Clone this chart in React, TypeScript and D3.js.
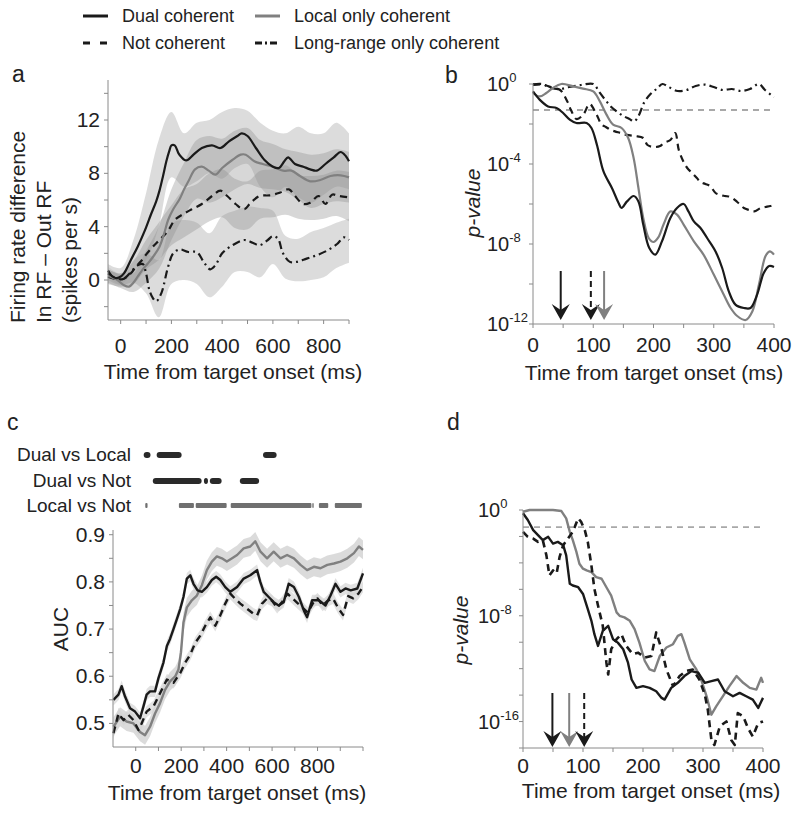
import React from 'react';
import * as d3 from 'd3';

const FONT = '"Liberation Sans", Arial, Helvetica, sans-serif';
const DARK = '#1a1a1a';
const GRAY = '#808080';
const AXIS = '#8a8a8a';
const DASH = '7,5';
const DASHDOT = '8,4,2,4';
const TICK_FS = 21;

// ---------- Panel a: firing rate difference ----------
const aDualT = [-50, -35, -20, -5, 13, 40, 67, 95, 120, 140, 153, 167, 180, 192, 200, 213, 228, 240, 252, 264, 287, 320, 360, 393, 427, 460, 477, 500, 533, 567, 600, 624, 645, 660, 687, 720, 747, 773, 807, 840, 867, 887, 900];
const aDual = [0.7, 0.3, 0.15, 0.2, 0.5, 1.5, 2.5, 3.7, 4.95, 5.9, 6.7, 7.8, 8.9, 9.7, 10.1, 10.1, 9.5, 9.2, 9.0, 9.0, 9.4, 9.9, 10.1, 9.9, 10.4, 10.8, 11.0, 10.8, 9.9, 9.0, 8.5, 8.4, 8.9, 9.2, 8.7, 8.5, 8.3, 8.2, 8.7, 9.2, 9.6, 9.3, 8.9];
const aLocalT = [-50, -13, 13, 33, 50, 67, 87, 107, 130, 153, 170, 187, 207, 233, 250, 267, 293, 320, 347, 373, 400, 440, 473, 493, 527, 560, 600, 640, 673, 707, 747, 787, 827, 867, 900];
const aLocal = [0.3, 0.0, -0.4, -0.5, -0.2, 0.25, 0.8, 1.24, 1.8, 2.5, 3.4, 4.5, 5.3, 6.1, 6.8, 7.4, 8.3, 8.5, 8.2, 7.9, 8.4, 9.0, 9.4, 9.4, 8.9, 8.7, 8.5, 8.2, 8.2, 7.8, 7.4, 7.5, 7.8, 7.85, 7.7];
const aNotT = [-50, -13, 13, 40, 60, 80, 100, 127, 153, 187, 213, 247, 280, 320, 360, 393, 420, 453, 487, 513, 547, 587, 627, 663, 687, 720, 747, 780, 807, 833, 860, 900];
const aNot = [0.25, 0.05, 0.1, 0.5, 1.0, 1.4, 1.9, 2.5, 3.0, 3.7, 4.5, 4.95, 5.3, 5.7, 6.3, 6.7, 6.3, 5.7, 5.3, 5.8, 6.3, 6.35, 6.55, 6.8, 6.3, 5.7, 5.8, 6.3, 5.7, 6.4, 6.3, 6.2];
const aLongT = [-50, -13, 13, 40, 67, 87, 100, 113, 127, 140, 160, 187, 207, 233, 267, 300, 327, 353, 373, 400, 440, 487, 520, 547, 580, 600, 620, 640, 667, 693, 733, 773, 813, 853, 880, 900];
const aLong = [0.5, 0.07, 0.1, 0.6, 1.1, 1.2, 0.5, -0.75, -1.36, -1.6, -1.0, 1.0, 2.0, 2.3, 2.1, 2.1, 1.36, 0.8, 1.1, 2.0, 2.6, 3.0, 2.8, 2.6, 3.0, 3.3, 3.1, 2.0, 1.36, 1.36, 1.6, 1.86, 2.2, 2.7, 3.2, 3.0];

// confidence bands (coarse time grid)
const aBandT = [-50, 0, 50, 100, 150, 200, 250, 300, 350, 400, 450, 500, 550, 600, 650, 700, 750, 800, 850, 900];
const aDualHi = [1.2, 0.9, 3.0, 6.5, 10.5, 12.6, 11.0, 11.8, 12.0, 12.6, 12.9, 12.7, 11.8, 11.2, 11.0, 11.5, 11.0, 11.0, 11.8, 11.0];
const aDualLo = [0.2, -0.3, 0.6, 1.5, 4.0, 7.7, 7.0, 7.4, 8.0, 7.6, 8.4, 8.7, 7.0, 6.2, 7.0, 6.2, 5.8, 6.4, 7.0, 6.8];
const aLocalHi = [0.8, 0.4, 0.5, 2.2, 4.0, 6.8, 8.8, 10.5, 10.8, 10.6, 11.2, 11.4, 10.5, 10.2, 9.8, 9.6, 9.4, 9.5, 9.8, 9.6];
const aLocalLo = [-0.2, -0.6, -0.9, -0.2, 0.8, 3.0, 4.8, 6.1, 5.8, 6.2, 6.8, 7.2, 6.9, 6.8, 6.6, 6.0, 5.4, 5.7, 5.9, 5.8];
const aNotHi = [0.8, 0.5, 1.4, 3.0, 4.3, 5.6, 6.8, 7.2, 8.0, 8.3, 7.6, 7.4, 8.2, 8.3, 8.6, 7.9, 7.8, 7.9, 8.2, 8.1];
const aNotLo = [-0.3, -0.5, -0.3, 0.8, 1.5, 2.6, 3.2, 3.8, 4.4, 4.7, 3.9, 3.8, 4.6, 4.7, 4.9, 4.6, 4.5, 4.6, 4.8, 4.4];
const aLongHi = [1.0, 0.5, 1.5, 2.0, 1.5, 4.2, 4.5, 4.3, 3.5, 4.8, 5.2, 5.5, 5.4, 5.2, 3.3, 3.1, 3.6, 3.9, 4.3, 4.6];
const aLongLo = [0.0, -0.4, -0.2, -1.0, -2.8, -0.3, 0.0, -0.3, -1.3, -0.5, 0.6, 0.6, 0.2, 1.2, 0.1, -0.1, 0.0, 0.2, 0.9, 1.3];

const aXTicks = [0, 100, 200, 300, 400, 500, 600, 700, 800, 900];
const aXLabels = [0, 200, 400, 600, 800];
const aYTicks = [-2, 0, 2, 4, 6, 8, 10, 12, 14];
const aYLabels = [0, 4, 8, 12];

// ---------- Panel b: p-values (log10) ----------
const bDualT = [0, 11, 25, 39, 50, 61, 72, 89, 97, 106, 117, 131, 142, 147, 156, 167, 175, 183, 193, 203, 214, 228, 239, 250, 258, 267, 278, 289, 303, 314, 325, 336, 350, 361, 372, 383, 392, 400];
const bDual = [-0.37, -0.78, -1.12, -1.2, -1.45, -1.78, -1.95, -1.95, -2.2, -3.03, -4.37, -5.2, -5.95, -6.2, -5.87, -5.6, -5.87, -7.03, -8.2, -8.53, -7.87, -6.7, -6.2, -6.0, -6.37, -6.87, -7.2, -7.7, -8.37, -9.2, -10.37, -11.03, -11.2, -11.2, -10.53, -9.45, -9.1, -9.15];
const bLocalT = [0, 11, 22, 33, 47, 67, 83, 100, 111, 122, 133, 147, 158, 167, 175, 183, 192, 200, 208, 217, 228, 239, 250, 267, 283, 300, 314, 328, 339, 353, 364, 375, 386, 393, 400];
const bLocal = [-0.45, -0.62, -0.45, -0.2, 0, -0.12, -0.23, -0.37, -0.87, -1.53, -2.03, -2.2, -2.7, -3.7, -5.2, -6.7, -7.7, -7.9, -7.67, -7.0, -6.37, -6.53, -7.03, -7.87, -8.53, -9.53, -10.37, -11.2, -11.6, -11.8, -11.37, -10.03, -8.6, -8.37, -8.53];
const bNotT = [0, 17, 33, 45, 57, 63, 72, 83, 94, 105, 114, 121, 128, 136, 145, 153, 169, 183, 190, 200, 211, 217, 228, 236, 242, 250, 256, 264, 272, 278, 286, 294, 303, 311, 319, 328, 339, 350, 359, 367, 378, 386, 394, 400];
const bNot = [-0.05, -0.03, -0.2, -0.3, -0.87, -1.3, -1.75, -1.55, -1.0, -1.5, -2.03, -2.15, -2.28, -2.37, -2.45, -2.53, -2.6, -2.7, -3.05, -3.15, -3.1, -2.95, -2.8, -2.45, -3.3, -3.9, -4.2, -4.45, -4.7, -4.9, -5.0, -5.1, -5.45, -5.55, -5.6, -5.65, -5.9, -6.2, -6.3, -6.37, -6.2, -6.15, -6.1, -6.05];
const bLongT = [0, 15, 30, 45, 60, 80, 100, 110, 120, 130, 140, 150, 160, 168, 175, 185, 195, 205, 215, 225, 240, 255, 270, 285, 300, 315, 330, 345, 360, 375, 385, 400];
const bLong = [-0.02, 0, -0.2, -0.25, -0.15, -0.05, 0, -0.4, -0.8, -1.15, -1.4, -1.6, -1.75, -1.87, -1.6, -0.9, -0.5, -0.25, 0, -0.15, -0.35, -0.3, -0.1, -0.03, -0.15, -0.3, -0.25, -0.35, -0.25, 0, -0.3, -0.65];
const bArrowT = [46, 96, 118];
const bArrowKind = ['dual', 'not', 'local'];
const bXTicks = [0, 50, 100, 150, 200, 250, 300, 350, 400];
const bXLabels = [0, 100, 200, 300, 400];
const bYTicks = [0, -2, -4, -6, -8, -10, -12];
const bYLabels = [0, -4, -8, -12];

// ---------- Panel c: AUC ----------
const cDualT = [-98, -76, -62, -47, -25, -3, 19, 34, 48, 63, 85, 100, 122, 137, 151, 166, 181, 196, 210, 225, 240, 254, 272, 291, 313, 335, 354, 372, 394, 416, 446, 475, 504, 534, 548, 563, 585, 607, 629, 651, 673, 696, 718, 740, 754, 776, 806, 835, 857, 879, 901, 923, 946, 975, 1000];
const cDual = [0.55, 0.561, 0.579, 0.557, 0.532, 0.525, 0.511, 0.536, 0.561, 0.568, 0.568, 0.596, 0.629, 0.664, 0.679, 0.7, 0.721, 0.743, 0.768, 0.807, 0.814, 0.796, 0.782, 0.779, 0.789, 0.804, 0.811, 0.804, 0.789, 0.779, 0.789, 0.807, 0.814, 0.825, 0.8, 0.779, 0.768, 0.757, 0.75, 0.757, 0.796, 0.789, 0.768, 0.739, 0.725, 0.761, 0.761, 0.75, 0.771, 0.796, 0.779, 0.786, 0.782, 0.786, 0.818];
const cLocalT = [-98, -69, -40, -10, 19, 41, 63, 85, 107, 129, 151, 174, 188, 199, 210, 225, 247, 269, 291, 313, 335, 357, 379, 401, 424, 446, 475, 504, 526, 549, 578, 607, 637, 666, 696, 725, 754, 784, 813, 843, 872, 901, 931, 960, 982, 1000];
const cLocal = [0.493, 0.514, 0.504, 0.5, 0.482, 0.475, 0.493, 0.521, 0.543, 0.571, 0.589, 0.6, 0.614, 0.65, 0.714, 0.746, 0.761, 0.771, 0.793, 0.825, 0.843, 0.854, 0.85, 0.843, 0.85, 0.857, 0.871, 0.875, 0.886, 0.864, 0.85, 0.864, 0.85, 0.857, 0.85, 0.836, 0.825, 0.832, 0.829, 0.836, 0.839, 0.843, 0.85, 0.861, 0.875, 0.868];
const cNotT = [-98, -76, -54, -32, -10, 12, 26, 48, 78, 107, 137, 166, 196, 218, 240, 262, 284, 306, 328, 350, 372, 394, 416, 438, 460, 490, 519, 534, 556, 578, 600, 622, 645, 668, 690, 712, 735, 757, 780, 800, 822, 845, 868, 890, 912, 935, 957, 980, 1000];
const cNot = [0.479, 0.521, 0.507, 0.518, 0.507, 0.486, 0.5, 0.525, 0.536, 0.564, 0.593, 0.586, 0.607, 0.629, 0.646, 0.671, 0.686, 0.707, 0.725, 0.707, 0.729, 0.754, 0.775, 0.764, 0.754, 0.743, 0.732, 0.729, 0.754, 0.765, 0.76, 0.745, 0.758, 0.775, 0.765, 0.755, 0.745, 0.735, 0.755, 0.765, 0.75, 0.76, 0.765, 0.745, 0.73, 0.77, 0.765, 0.775, 0.79];
const cDualSem = 0.012;
const cLocalSem = 0.02;
const cNotSem = 0.012;
const cXTicks = [0, 100, 200, 300, 400, 500, 600, 700, 800, 900, 1000];
const cXLabels = [0, 200, 400, 600, 800];
const cYTicks = [0.5, 0.55, 0.6, 0.65, 0.7, 0.75, 0.8, 0.85, 0.9];
const cYLabels = [0.5, 0.6, 0.7, 0.8, 0.9];

const sigNames = ['Dual vs Local', 'Dual vs Not', 'Local vs Not'];
const sigDualLocal = [[35, 65], [92, 202], [560, 620]];
const sigDualNot = [[75, 290], [300, 318], [326, 378], [458, 543]];
const sigLocalNot = [[42, 52], [190, 256], [264, 400], [418, 773], [777, 783], [806, 847], [876, 995]];

// ---------- Panel d: p-values (log10) ----------
const dDualT = [0, 8, 17, 25, 33, 42, 50, 58, 67, 72, 78, 83, 92, 100, 108, 114, 119, 125, 133, 142, 150, 158, 167, 175, 181, 189, 200, 211, 222, 231, 236, 247, 258, 269, 281, 292, 303, 314, 325, 336, 350, 361, 372, 383, 392, 400];
const dDual = [-0.25, -0.76, -1.52, -1.9, -2.28, -2.03, -2.54, -2.41, -2.66, -3.43, -5.58, -5.71, -5.84, -6.35, -7.49, -8.38, -9.39, -10.28, -9.14, -8.76, -9.77, -10.03, -10.53, -11.55, -12.82, -13.45, -13.32, -13.45, -13.71, -14.21, -14.34, -13.45, -13.07, -12.56, -12.18, -12.31, -13.07, -12.94, -12.82, -13.71, -14.09, -13.83, -14.09, -14.34, -14.97, -14.21];
const dLocalT = [0, 11, 28, 50, 64, 72, 78, 83, 89, 94, 100, 106, 114, 122, 131, 139, 147, 156, 161, 169, 178, 186, 194, 203, 211, 219, 228, 239, 250, 258, 264, 269, 278, 289, 297, 306, 314, 322, 333, 344, 356, 367, 378, 389, 397, 400];
const dLocal = [-0.13, 0, 0, 0, -0.08, -0.63, -1.65, -2.28, -3.17, -4.06, -4.44, -4.57, -4.7, -5.08, -5.2, -5.84, -6.47, -7.74, -8.0, -8.12, -8.38, -9.01, -10.03, -11.42, -12.06, -12.18, -11.04, -10.4, -10.15, -9.52, -9.39, -10.03, -11.29, -12.06, -12.82, -14.09, -15.48, -14.85, -14.09, -13.32, -12.56, -13.07, -13.45, -13.58, -12.69, -13.07];
const dNotT = [0, 8, 17, 25, 33, 39, 44, 50, 56, 61, 67, 75, 83, 92, 97, 103, 108, 114, 119, 125, 133, 139, 142, 147, 156, 164, 172, 183, 192, 203, 214, 222, 231, 239, 250, 261, 272, 283, 294, 303, 308, 314, 319, 328, 339, 347, 353, 358, 367, 375, 383, 392, 400];
const dNot = [-1.65, -2.03, -2.16, -2.41, -2.28, -3.43, -4.95, -4.57, -4.8, -3.55, -2.66, -2.16, -1.65, -0.63, -0.9, -1.52, -2.41, -4.19, -5.96, -7.23, -8.76, -11.55, -12.44, -10.53, -9.77, -9.39, -10.28, -10.91, -10.79, -11.17, -11.04, -9.26, -10.53, -12.06, -13.32, -12.56, -12.18, -12.06, -12.82, -13.96, -15.1, -17.39, -17.77, -16.37, -15.99, -17.39, -17.77, -15.36, -15.61, -16.5, -17.13, -16.12, -15.99];
const dArrowT = [49, 77, 102];
const dArrowKind = ['dual', 'local', 'not'];
const dXTicks = [0, 50, 100, 150, 200, 250, 300, 350, 400];
const dXLabels = [0, 100, 200, 300, 400];
const dYTicks = [0, -2, -4, -6, -8, -10, -12, -14, -16, -18];
const dYLabels = [0, -8, -16];

const alphaLevel = 0.05;

// ---------- Legend ----------
const legendNames = ['Dual coherent', 'Local only coherent', 'Not coherent', 'Long-range only coherent'];
const legendKinds = ['dual', 'local', 'not', 'long'];

const styleOf = (k: string) => ({
  stroke: k === 'local' ? GRAY : DARK,
  dash: k === 'not' ? DASH : k === 'long' ? DASHDOT : undefined,
});

const zip = (t: number[], v: number[]) => t.map((x, i) => [x, v[i]] as [number, number]);

function Line({ d, kind, width = 2.2 }: { d: string | null; kind: string; width?: number }) {
  const s = styleOf(kind);
  return <path d={d || ''} fill="none" stroke={s.stroke} strokeWidth={width} strokeDasharray={s.dash} strokeLinejoin="round" />;
}

function XAxis({ x, y, ticks, labels, labelY, fmt }: any) {
  const [r0, r1] = x.range();
  return (
    <g>
      <line x1={r0} x2={r1} y1={y} y2={y} stroke={AXIS} strokeWidth={1} />
      {ticks.map((t: number) => (
        <line key={t} x1={x(t)} x2={x(t)} y1={y} y2={y + 4} stroke={AXIS} strokeWidth={1} />
      ))}
      {labels.map((t: number) => (
        <text key={t} x={x(t)} y={labelY} fontSize={TICK_FS} textAnchor="middle" fill="#222">{fmt ? fmt(t) : t}</text>
      ))}
    </g>
  );
}

function YAxisLin({ y, x, ticks, labels, labelX, fmt }: any) {
  const [r0, r1] = y.range();
  return (
    <g>
      <line x1={x} x2={x} y1={r0} y2={r1} stroke={AXIS} strokeWidth={1} />
      {ticks.map((t: number) => (
        <line key={t} x1={x - 4} x2={x} y1={y(t)} y2={y(t)} stroke={AXIS} strokeWidth={1} />
      ))}
      {labels.map((t: number) => (
        <text key={t} x={labelX} y={y(t) + 7} fontSize={TICK_FS} textAnchor="end" fill="#222">{fmt ? fmt(t) : t}</text>
      ))}
    </g>
  );
}

function YAxisLog({ y, x, ticks, labels, labelX }: any) {
  const [r0, r1] = y.range();
  return (
    <g>
      <line x1={x} x2={x} y1={r0} y2={r1} stroke={AXIS} strokeWidth={1} />
      {ticks.map((e: number) => (
        <line key={e} x1={x - 4} x2={x} y1={y(Math.pow(10, e))} y2={y(Math.pow(10, e))} stroke={AXIS} strokeWidth={1} />
      ))}
      {labels.map((e: number) => (
        <text key={e} x={labelX} y={y(Math.pow(10, e)) + 7} fontSize={20} fill="#222">
          10<tspan dy={-9} fontSize={13}>{e}</tspan>
        </text>
      ))}
    </g>
  );
}

function Arrow({ x, top, tip, kind }: { x: number; top: number; tip: number; kind: string }) {
  const s = styleOf(kind);
  const col = s.stroke;
  return (
    <g>
      <line x1={x} x2={x} y1={top} y2={tip - 10} stroke={col} strokeWidth={2} strokeDasharray={kind === 'not' ? '6,4' : undefined} />
      <path d={`M${x - 9},${tip - 16} L${x},${tip} L${x + 9},${tip - 16} L${x},${tip - 10} Z`} fill={col} />
    </g>
  );
}

export default function App() {
  // Panel a
  const ax = d3.scaleLinear().domain([-50, 900]).range([108, 349]);
  const ay = d3.scaleLinear().domain([-3, 15]).range([320, 80]);
  const aLine = d3.line<[number, number]>().x(d => ax(d[0])).y(d => ay(d[1])).curve(d3.curveCatmullRom);
  const aArea = (lo: number[], hi: number[]) =>
    d3.area<number>().x((_, i) => ax(aBandT[i])).y0((_, i) => ay(lo[i])).y1((_, i) => ay(hi[i])).curve(d3.curveCatmullRom)(aBandT);

  // Panel b
  const bx = d3.scaleLinear().domain([0, 400]).range([533, 774]);
  const by = d3.scaleLog().domain([1e-12, 1]).range([324, 84]);
  const bLine = d3.line<[number, number]>().x(d => bx(d[0])).y(d => by(Math.pow(10, d[1]))).curve(d3.curveCatmullRom);

  // Panel c
  const cx = d3.scaleLinear().domain([-100, 1000]).range([113, 363]);
  const cy = d3.scaleLinear().domain([0.45, 0.91]).range([747, 530]);
  const cLine = d3.line<[number, number]>().x(d => cx(d[0])).y(d => cy(d[1]));
  const cBand = (t: number[], v: number[], sem: number) =>
    d3.area<number>().x((_, i) => cx(t[i])).y0((_, i) => cy(v[i] - sem)).y1((_, i) => cy(v[i] + sem))(t);

  // Panel d
  const dx = d3.scaleLinear().domain([0, 400]).range([523, 763]);
  const dy = d3.scaleLog().domain([1e-18, 1]).range([748, 510]);
  const dLine = d3.line<[number, number]>().x(d => dx(d[0])).y(d => dy(Math.pow(10, d[1])));

  const sigRows = [sigDualLocal, sigDualNot, sigLocalNot];
  const sigY = [455, 481, 505.5];

  return (
    <svg width={800} height={813} style={{ position: 'absolute', left: 0, top: 0, background: '#fff' }} fontFamily={FONT}>
      <rect x={0} y={0} width={800} height={813} fill="#fff" />

      {/* Legend */}
      {legendNames.map((n, i) => {
        const col = i % 2;
        const row = Math.floor(i / 2);
        const lx = col === 0 ? 83 : 255;
        const ly = row === 0 ? 16 : 43;
        const s = styleOf(legendKinds[i]);
        return (
          <g key={n}>
            <line x1={lx} x2={lx + 25} y1={ly} y2={ly} stroke={s.stroke} strokeWidth={3}
              strokeDasharray={legendKinds[i] === 'not' ? '7,10' : legendKinds[i] === 'long' ? '7,3,2,3' : undefined} />
            <text x={lx + 39} y={ly + 6} fontSize={18} fill="#222">{n}</text>
          </g>
        );
      })}

      {/* Panel a */}
      <text x={12} y={82} fontSize={23} fill="#222">a</text>
      <path d={aArea(aDualLo, aDualHi) || ''} fill="#c4c4c4" fillOpacity={0.6} />
      <path d={aArea(aLongLo, aLongHi) || ''} fill="#c4c4c4" fillOpacity={0.6} />
      <path d={aArea(aLocalLo, aLocalHi) || ''} fill="#8c8c8c" fillOpacity={0.35} />
      <path d={aArea(aNotLo, aNotHi) || ''} fill="#8c8c8c" fillOpacity={0.35} />
      <Line d={aLine(zip(aLongT, aLong))} kind="long" />
      <Line d={aLine(zip(aNotT, aNot))} kind="not" />
      <Line d={aLine(zip(aLocalT, aLocal))} kind="local" />
      <Line d={aLine(zip(aDualT, aDual))} kind="dual" />
      <XAxis x={ax} y={320} ticks={aXTicks} labels={aXLabels} labelY={353} />
      <YAxisLin y={ay} x={108} ticks={aYTicks} labels={aYLabels} labelX={100} />
      <text transform="translate(17,323) rotate(-90)" fontSize={21} dominantBaseline="central" fill="#222">Firing rate difference</text>
      <text transform="translate(43,323) rotate(-90)" fontSize={21} dominantBaseline="central" fill="#222">In RF – Out RF</text>
      <text transform="translate(69,323) rotate(-90)" fontSize={21} dominantBaseline="central" fill="#222">(spikes per s)</text>
      <text x={233} y={379} fontSize={21} textAnchor="middle" fill="#222">Time from target onset (ms)</text>

      {/* Panel b */}
      <text x={445} y={83} fontSize={23} fill="#222">b</text>
      <line x1={bx(0)} x2={bx(400)} y1={by(alphaLevel)} y2={by(alphaLevel)} stroke="#a8a8a8" strokeWidth={1.8} strokeDasharray="6,5" />
      <Line d={bLine(zip(bLongT, bLong))} kind="long" />
      <Line d={bLine(zip(bNotT, bNot))} kind="not" />
      <Line d={bLine(zip(bLocalT, bLocal))} kind="local" />
      <Line d={bLine(zip(bDualT, bDual))} kind="dual" />
      {bArrowT.map((t, i) => <Arrow key={i} x={bx(t)} top={271} tip={320} kind={bArrowKind[i]} />)}
      <XAxis x={bx} y={324} ticks={bXTicks} labels={bXLabels} labelY={352} />
      <YAxisLog y={by} x={533} ticks={bYTicks} labels={bYLabels} labelX={487} />
      <text transform="translate(472,203) rotate(-90)" fontSize={21} fontStyle="italic" textAnchor="middle" dominantBaseline="central" fill="#222">p-value</text>
      <text x={654} y={380} fontSize={21} textAnchor="middle" fill="#222">Time from target onset (ms)</text>

      {/* Panel c */}
      <text x={7} y={430} fontSize={23} fill="#222">c</text>
      {sigNames.map((n, i) => (
        <text key={n} x={131} y={sigY[i] + 6} fontSize={19} textAnchor="end" fill="#222">{n}</text>
      ))}
      {sigRows.map((row, i) =>
        row.map((iv, j) => (
          <rect key={`${i}-${j}`} x={cx(iv[0])} y={sigY[i] - (i === 2 ? 2.5 : 3)} width={cx(iv[1]) - cx(iv[0])} height={i === 2 ? 5 : 6}
            rx={i === 2 ? 1 : 3} fill={i === 2 ? '#707070' : '#2a2a2a'} />
        ))
      )}
      <path d={cBand(cLocalT, cLocal, cLocalSem) || ''} fill="#cfcfcf" fillOpacity={0.75} />
      <path d={cBand(cDualT, cDual, cDualSem) || ''} fill="#d4d4d4" fillOpacity={0.7} />
      <path d={cBand(cNotT, cNot, cNotSem) || ''} fill="#d4d4d4" fillOpacity={0.7} />
      <Line d={cLine(zip(cLocalT, cLocal))} kind="local" width={2.4} />
      <Line d={cLine(zip(cNotT, cNot))} kind="not" width={2.4} />
      <Line d={cLine(zip(cDualT, cDual))} kind="dual" width={2.4} />
      <XAxis x={cx} y={747} ticks={cXTicks} labels={cXLabels} labelY={773} />
      <YAxisLin y={cy} x={113} ticks={cYTicks} labels={cYLabels} labelX={105} fmt={(v: number) => v.toFixed(1)} />
      <text transform="translate(60,629) rotate(-90)" fontSize={21} textAnchor="middle" dominantBaseline="central" fill="#222">AUC</text>
      <text x={237} y={800} fontSize={21} textAnchor="middle" fill="#222">Time from target onset (ms)</text>

      {/* Panel d */}
      <text x={447} y={430} fontSize={23} fill="#222">d</text>
      <line x1={dx(0)} x2={dx(400)} y1={dy(alphaLevel)} y2={dy(alphaLevel)} stroke="#a8a8a8" strokeWidth={1.8} strokeDasharray="6,5" />
      <Line d={dLine(zip(dLocalT, dLocal))} kind="local" width={2.4} />
      <Line d={dLine(zip(dNotT, dNot))} kind="not" width={2.6} />
      <Line d={dLine(zip(dDualT, dDual))} kind="dual" width={2.4} />
      {dArrowT.map((t, i) => <Arrow key={i} x={dx(t)} top={693} tip={747} kind={dArrowKind[i]} />)}
      <XAxis x={dx} y={748} ticks={dXTicks} labels={dXLabels} labelY={773} />
      <YAxisLog y={dy} x={523} ticks={dYTicks} labels={dYLabels} labelX={478} />
      <text transform="translate(460,630) rotate(-90)" fontSize={21} fontStyle="italic" textAnchor="middle" dominantBaseline="central" fill="#222">p-value</text>
      <text x={651} y={798} fontSize={21} textAnchor="middle" fill="#222">Time from target onset (ms)</text>
    </svg>
  );
}
